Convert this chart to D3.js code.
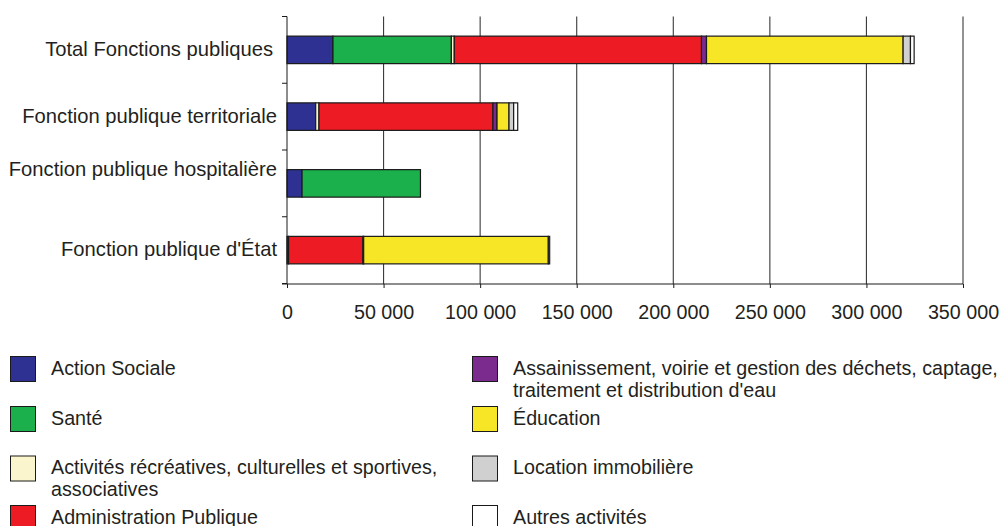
<!DOCTYPE html>
<html>
<head>
<meta charset="utf-8">
<script src="https://cdn.jsdelivr.net/npm/d3@7"></script>
<style>
  body { margin: 0; background: #fff; }
  svg { font-family: "Liberation Sans", Arial, sans-serif; }
  text { fill: #231f20; }
</style>
</head>
<body>
<svg id="chart" width="1005" height="526"></svg>
<script>
// categories (top to bottom)
const categories = [
    "Total Fonctions publiques",
    "Fonction publique territoriale",
    "Fonction publique hospitalière",
    "Fonction publique d'État"
];

// series, in stacking order
const seriesKeys = ["social", "sante", "loisirs", "admin", "assain", "educ", "location", "autres"];
const seriesLabels = [
    ["Action Sociale"],
    ["Santé"],
    ["Activités récréatives, culturelles et sportives,", "associatives"],
    ["Administration Publique"],
    ["Assainissement, voirie et gestion des déchets, captage,", "traitement et distribution d'eau"],
    ["Éducation"],
    ["Location immobilière"],
    ["Autres activités"]
];
const seriesColors = ["#2e3192", "#1bb04b", "#fbf5cd", "#ed1c24", "#7b2a8e", "#f7e625", "#d0d0d0", "#ffffff"];

// values per category, same order as seriesKeys
const totalValues        = [23800, 61300, 1500, 128000, 2600, 101800, 3800, 1900];
const territorialeValues = [14850, 0, 1700, 90100, 2100, 6200, 2400, 2100];
const hospitaliereValues = [7800, 61300, 0, 0, 0, 0, 0, 0];
const etatValues         = [800, 0, 0, 38500, 400, 95600, 700, 0];

const xTicks = [0, 50000, 100000, 150000, 200000, 250000, 300000, 350000];

const valueRows = [totalValues, territorialeValues, hospitaliereValues, etatValues];
const table = categories.map(function(c, i) {
    let row = { cat: c };
    seriesKeys.forEach(function(k, j) { row[k] = valueRows[i][j]; });
    return row;
});

let chart = d3.select("#chart");
const margin = {left: 287, right: 963, top: 16.5, bottom: 283.5};
const fontSize = 19.7;

let x = d3.scaleLinear().domain([0, 350000]).range([margin.left, margin.right]);
let y = d3.scaleBand().domain(categories).range([margin.top, margin.bottom])
    .paddingInner(0.588).paddingOuter(0.294);
let color = d3.scaleOrdinal().domain(seriesKeys).range(seriesColors);

let stacked = d3.stack().keys(seriesKeys)(table);

// vertical grid lines
chart.append("g")
    .selectAll("line")
    .data(xTicks.slice(1))
    .enter().append("line")
    .attr("x1", d => x(d)).attr("x2", d => x(d))
    .attr("y1", margin.top).attr("y2", margin.bottom + 0.5)
    .attr("stroke", "#3a3a3a")
    .attr("stroke-width", 1.1);

// bars
chart.append("g")
    .selectAll("g")
    .data(stacked)
    .enter().append("g")
    .attr("fill", d => color(d.key))
    .selectAll("rect")
    .data(d => d.filter(s => s[1] - s[0] > 0))
    .enter().append("rect")
    .attr("x", d => x(d[0]))
    .attr("y", d => y(d.data.cat))
    .attr("width", d => x(d[1]) - x(d[0]))
    .attr("height", y.bandwidth())
    .attr("stroke", "#1a1a1a")
    .attr("stroke-width", 1.2);

// bottom axis
let xAxis = d3.axisBottom(x)
    .tickValues(xTicks)
    .tickSizeInner(4)
    .tickSizeOuter(0)
    .tickPadding(17)
    .tickFormat(d => d3.format(",")(d).replace(/,/g, " "));

let gx = chart.append("g")
    .attr("transform", "translate(0," + (margin.bottom + 0.5) + ")")
    .call(xAxis);
gx.select(".domain").attr("d", "M" + (margin.left - 5) + ",0H" + margin.right).attr("stroke", "#1a1a1a");
gx.selectAll(".tick line").attr("stroke", "#1a1a1a");
gx.selectAll("text")
    .attr("font-size", fontSize)
    .attr("font-family", "Liberation Sans, Arial, sans-serif")
    .style("fill", "#231f20");

// left axis: line plus ticks at band boundaries
let gy = chart.append("g");
gy.append("line")
    .attr("x1", margin.left).attr("x2", margin.left)
    .attr("y1", margin.top).attr("y2", margin.bottom + 0.5)
    .attr("stroke", "#1a1a1a");
let bounds = categories.map(c => y(c) - y.step() * y.paddingInner() / 2);
bounds.push(margin.bottom);
gy.selectAll(".bt")
    .data(bounds)
    .enter().append("line")
    .attr("class", "bt")
    .attr("x1", margin.left - 5).attr("x2", margin.left)
    .attr("y1", d => d).attr("y2", d => d)
    .attr("stroke", "#1a1a1a");

gy.selectAll(".lab")
    .data(categories)
    .enter().append("text")
    .attr("class", "lab")
    .attr("x", (d, i) => margin.left - (i === 0 ? 14 : 10))
    .attr("y", (d, i) => y(d) + y.bandwidth() / 2 + (i === 2 ? -14 : -1))
    .attr("dy", "0.35em")
    .attr("text-anchor", "end")
    .attr("font-size", 20.2)
    .text(d => d);

// legend, two columns
let legend = chart.append("g");
const colX = [10.5, 472.5], rowY = [356.5, 406.5, 456, 505.5];
seriesKeys.forEach(function(k, i) {
    let col = Math.floor(i / 4), row = i % 4;
    let g = legend.append("g")
        .attr("transform", "translate(" + colX[col] + "," + rowY[row] + ")");
    g.append("rect")
        .attr("width", 25).attr("height", 25)
        .attr("fill", color(k))
        .attr("stroke", "#1a1a1a")
        .attr("stroke-width", 1);
    let t = g.append("text")
        .attr("x", 40.5)
        .attr("y", 18)
        .attr("font-size", fontSize);
    seriesLabels[i].forEach(function(line, j) {
        t.append("tspan").attr("x", 40.5).attr("dy", j === 0 ? 0 : 22).text(line);
    });
});
</script>
</body>
</html>
